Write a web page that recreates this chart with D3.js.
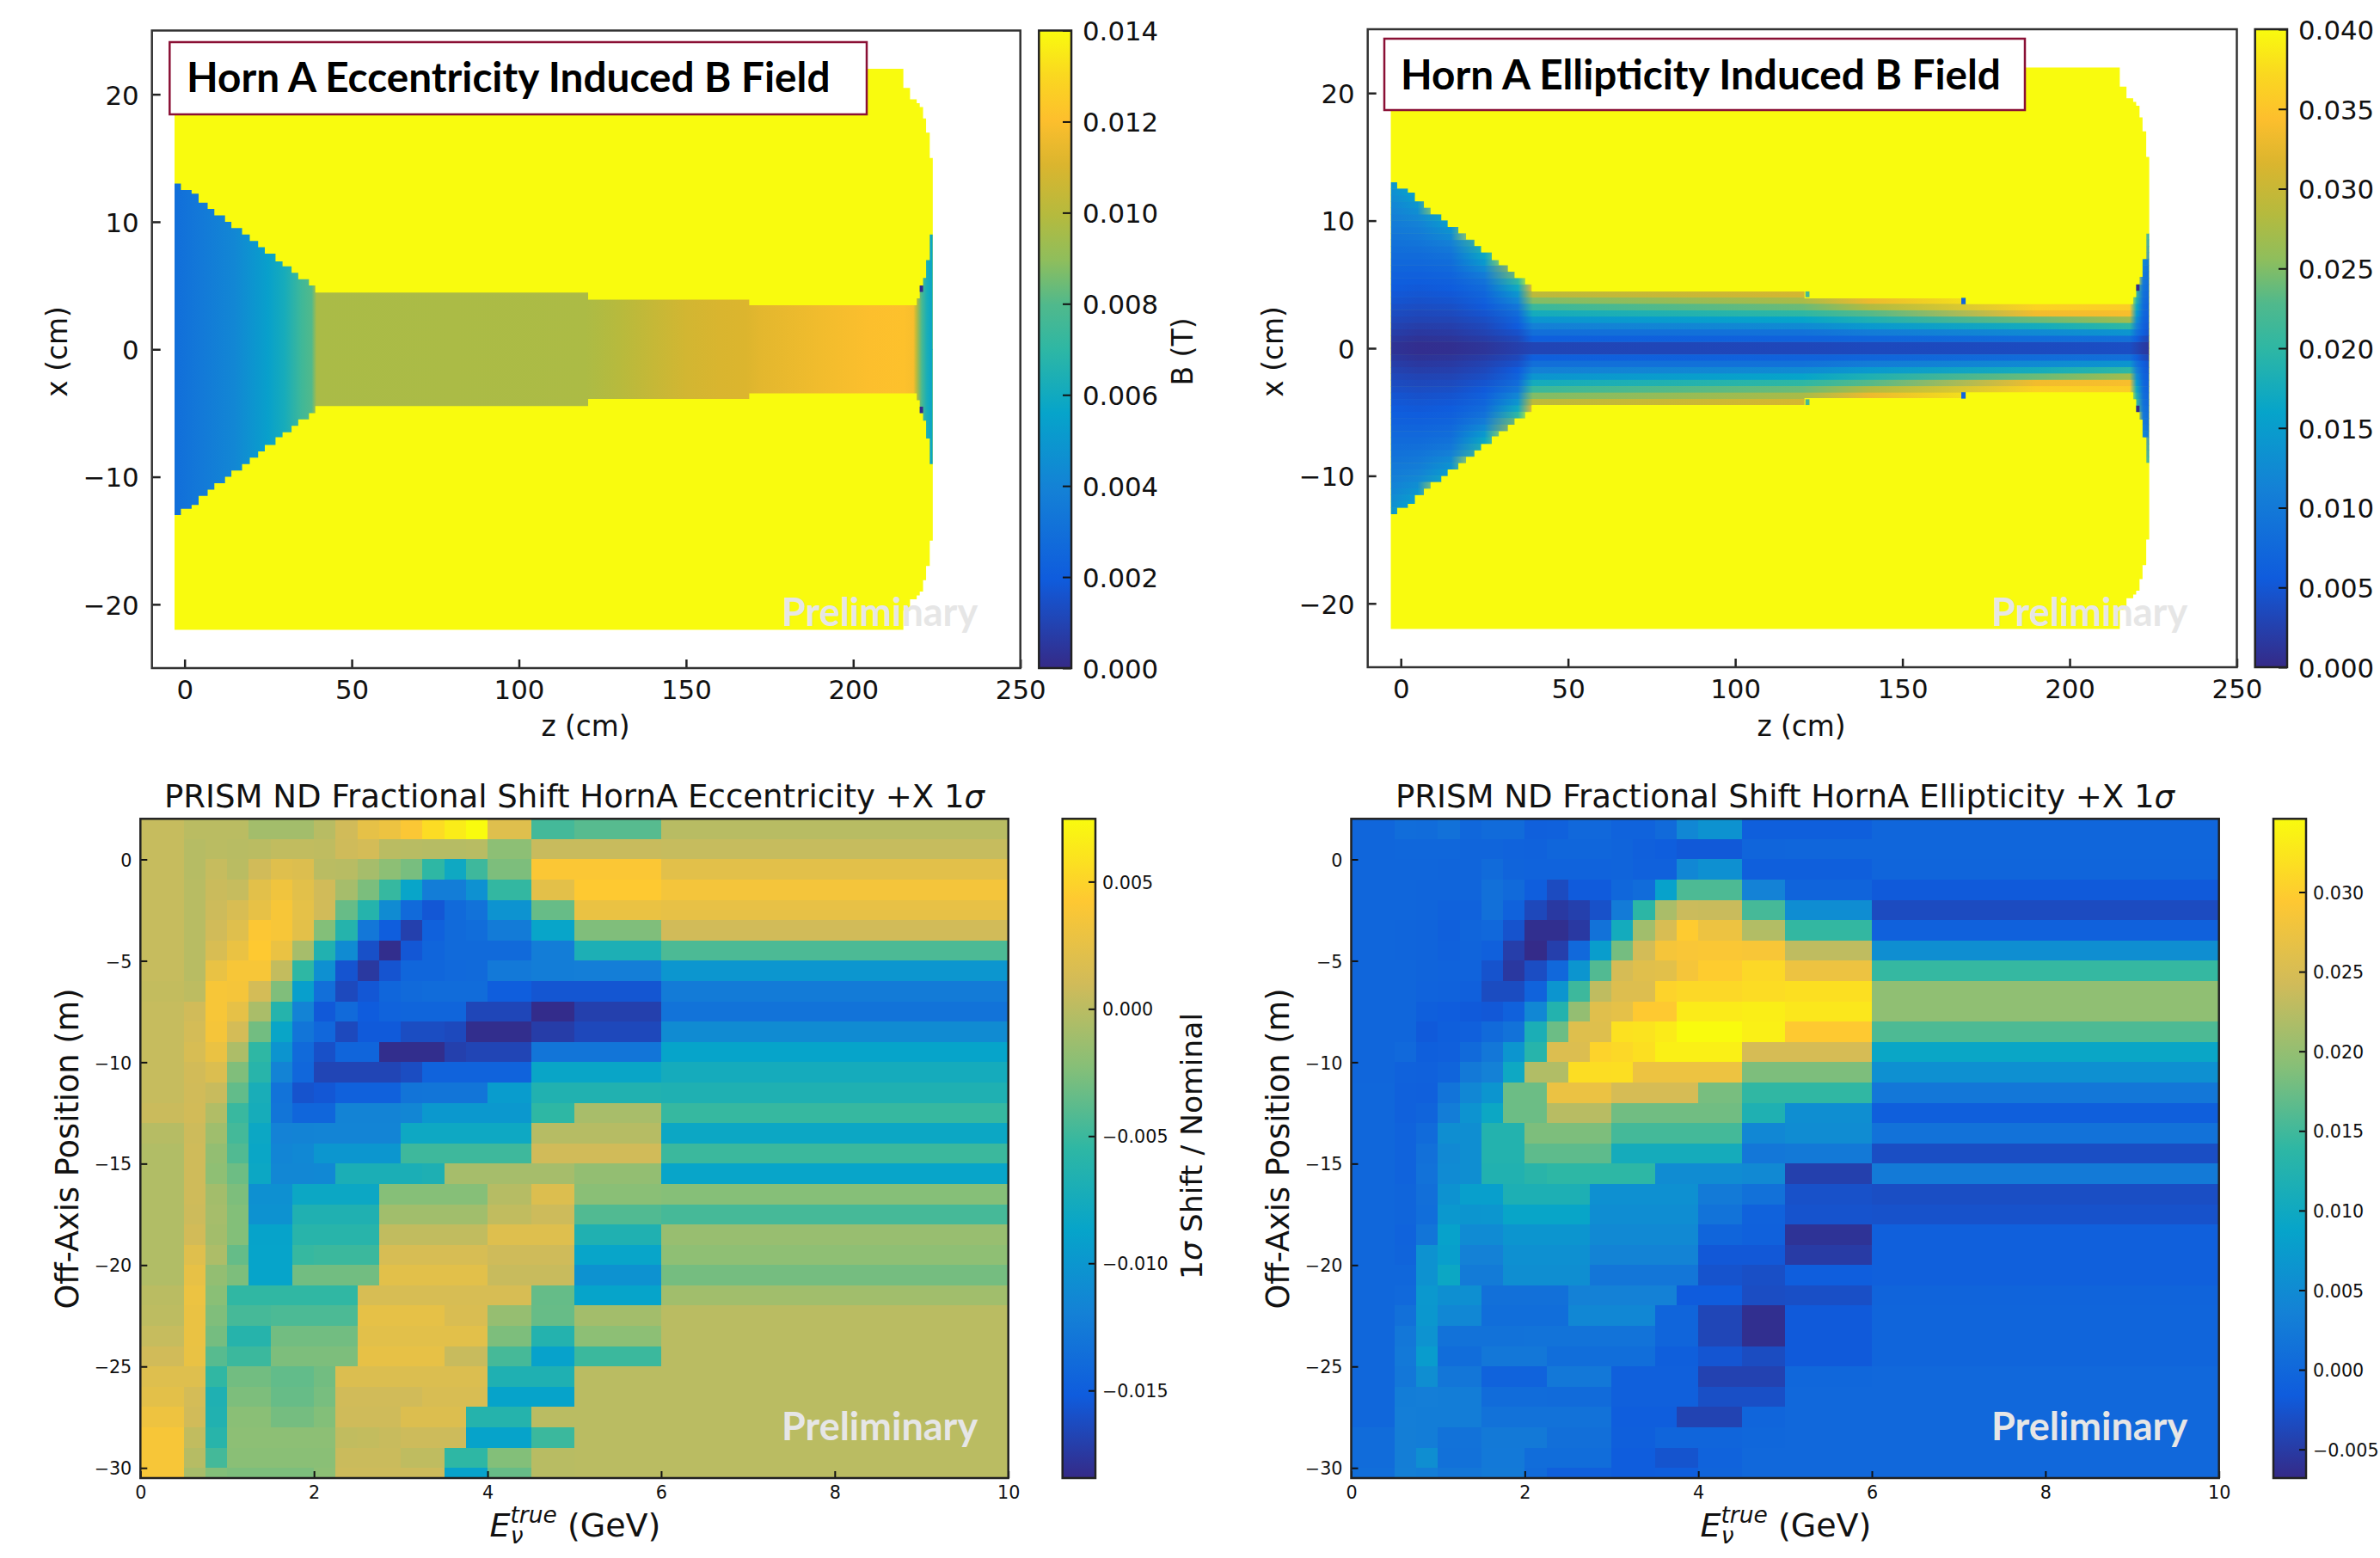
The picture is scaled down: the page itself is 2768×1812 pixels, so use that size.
<!DOCTYPE html>
<html lang="en">
  <head>
    <meta charset="UTF-8" />
    <title>Horn A Eccentricity and Ellipticity</title>
    <script src="https://cdnjs.cloudflare.com/ajax/libs/d3/7.8.5/d3.min.js"></script>
    <style>
      body { margin: 0; background: #fff; }
      text { font-family: "DejaVu Sans", sans-serif; fill: #111; }
      .callout, .prelim { font-family: Lato, sans-serif; font-weight: 700; }
    </style>
  </head>
  <body>
    <div id="chart"></div>
    <script>
      // colormaps
      const parulaStops = ["#352a87", "#0f5cdd", "#1481d6", "#06a4ca", "#2eb7a4", "#87bf77", "#d1bb59", "#fec832", "#f9fb0e"];
      const fieldStopAt = [0, 0.14, 0.28, 0.4, 0.5, 0.57, 0.64, 0.71, 0.79, 0.86, 0.93, 1];
      const fieldStops = ["#352a87", "#0f5cdd", "#1481d6", "#06a4ca", "#2eb7a4", "#50b98c", "#8fbe5c", "#b5ba3e", "#dbb52e", "#fdbf2d", "#fad820", "#f9fb0e"];

      // horn outlines (z bin edges in cm, half height of each bin in cm)
      const outerZ = [-3, 215, 217, 219, 219.9, 220.9, 221.8, 222.9, 223.8];
      const outerR = [22, 20.5, 19.6, 19.3, 19, 18.1, 17, 15];
      const innerZ = [-3, -1.1, 2.1, 4.2, 6.9, 8.9, 12.1, 14, 17.2, 19.5, 22, 24, 27.2, 29.3, 32, 34, 37.2, 39.1, 120.7, 168.9, 219, 219.9, 220.9, 221.8, 222.9, 223.8];
      const innerR = [13, 12.5, 12.2, 11.5, 11, 10.5, 10, 9.5, 9, 8.5, 8, 7.5, 6.9, 6.5, 6, 5.5, 5, 4.45, 3.9, 3.45, 4, 5, 5.6, 7, 9];

      // eccentricity field along z (mT), no x dependence
      const eccZ = [-3, 5, 15, 25, 30, 35, 38, 39.5, 120, 130, 140, 150, 160, 168, 172, 190, 205, 215, 218, 219, 220.5, 222, 223.8];
      const eccB = [2.9, 3.5, 4.2, 5.4, 6.2, 7.5, 8.0, 9.65, 9.7, 10.0, 10.4, 10.8, 11.0, 11.1, 11.3, 11.7, 12.0, 12.1, 11.9, 10, 7.8, 6.3, 5.6];

      // ellipticity field (mT): one row per 0.5 cm |x| bin, one column per z knot
      const ellZ = [-3, 5, 15, 25, 35, 39.5, 120, 140, 190, 218, 220, 222, 223.8];
      const ellRowR = 0.5;
      const ellB = [
        [1.0, 0.5, 0.6, 1.2, 2.4, 3.0, 3.3, 3.5, 3.7, 4.0, 3.0, 2.0, 1.5],
        [1.6, 1.0, 1.2, 2.0, 3.4, 6.0, 6.5, 7.0, 8.0, 8.5, 6.0, 4.0, 3.0],
        [2.2, 1.6, 1.8, 2.8, 4.4, 8.5, 9.0, 10.5, 12.5, 14.0, 9.0, 6.0, 4.5],
        [2.8, 2.2, 2.4, 3.4, 5.6, 11.0, 12.5, 14.5, 17.5, 20.0, 11.0, 6.5, 5.0],
        [3.3, 2.9, 3.0, 4.0, 6.6, 14.0, 16.0, 18.5, 24.0, 27.0, 13.0, 7.0, 5.5],
        [3.8, 3.4, 3.6, 4.7, 8.0, 17.5, 20.0, 23.0, 33.5, 34.0, 15.0, 7.5, 5.8],
        [4.3, 3.9, 4.1, 5.4, 9.5, 21.0, 24.0, 28.0, 36.5, 36.0, 17.0, 8.0, 6.0],
        [4.8, 4.4, 4.7, 6.2, 12.0, 25.0, 27.5, 33.0, 40, 40, 19.0, 8.5, 6.5],
        [5.2, 4.9, 5.2, 7.0, 14.0, 29.0, 31.0, 40, 40, 40, 21.0, 9.0, 7.0],
        [5.6, 5.3, 5.7, 7.8, 17.0, 33.0, 40, 40, 40, 40, 23.0, 9.5, 7.5],
        [6.0, 5.7, 6.2, 9.0, 20.0, 40, 40, 40, 40, 40, 40, 10.0, 8.0],
        [6.4, 6.2, 6.8, 10.5, 24.0, 40, 40, 40, 40, 40, 40, 10.0, 8.5],
        [6.9, 6.8, 7.5, 12.5, 27.0, 40, 40, 40, 40, 40, 40, 11.0, 9.0],
        [7.4, 7.4, 8.2, 14.5, 40, 40, 40, 40, 40, 40, 40, 12.0, 10.0],
        [7.8, 7.9, 9.0, 16.5, 40, 40, 40, 40, 40, 40, 40, 40, 11.0],
        [8.3, 8.5, 9.8, 18.5, 40, 40, 40, 40, 40, 40, 40, 40, 12.0],
        [8.8, 9.2, 11.0, 21.0, 40, 40, 40, 40, 40, 40, 40, 40, 13.5],
        [9.3, 9.9, 12.5, 40, 40, 40, 40, 40, 40, 40, 40, 40, 15.0],
        [9.8, 10.5, 13.5, 40, 40, 40, 40, 40, 40, 40, 40, 40, 40],
        [10.3, 11.2, 15.0, 40, 40, 40, 40, 40, 40, 40, 40, 40, 40],
        [10.8, 12.0, 17.0, 40, 40, 40, 40, 40, 40, 40, 40, 40, 40],
        [11.3, 13.0, 40, 40, 40, 40, 40, 40, 40, 40, 40, 40, 40],
        [11.8, 14.0, 40, 40, 40, 40, 40, 40, 40, 40, 40, 40, 40],
        [12.4, 15.0, 40, 40, 40, 40, 40, 40, 40, 40, 40, 40, 40],
        [13.0, 16.0, 40, 40, 40, 40, 40, 40, 40, 40, 40, 40, 40],
        [14.0, 17.0, 40, 40, 40, 40, 40, 40, 40, 40, 40, 40, 40],
      ];
      // stray single cells at the conductor steps: [z0, z1, r0, r1, B in mT]
      const ellSpecks = [[121, 122.2, 4, 4.45, 22], [167.6, 168.9, 3.45, 3.95, 7], [219.9, 220.9, 4.5, 5, 0]];
      const eccSpecks = [[219.9, 220.9, 4.5, 5, 0]];

      // PRISM shift histograms, units of 1e-3. Rows top to bottom, columns by energy bin
      const energyEdges = [0, 0.5, 0.75, 1, 1.25, 1.5, 1.75, 2, 2.25, 2.5, 2.75, 3, 3.25, 3.5, 3.75, 4, 4.5, 5, 6, 10];
      const offAxisEdges = [2, 1, 0, -1, -2, -3, -4, -5, -6, -7, -8, -9, -10, -11, -12, -13, -14, -15, -16, -17, -18, -19, -20, -21, -22, -23, -24, -25, -26, -27, -28, -29, -30, -30.5];
      const eccShift = [
        [.5, 0, 0, 0, -1, -1, -1, -.1, 1, 2.5, 3, 4, 5.5, 6.5, 7.5, 2, -4.7, -4, -.1],
        [.5, -.2, 0, -.1, 0, .3, .3, .2, .9, 1.2, 0, -.1, -.2, -.2, -.1, -2, .6, .6, .5],
        [.5, -.2, .5, 0, 1, 2, 1.8, 0, -.1, -.9, -2, -2.8, -5.5, -8, -4.9, -2.6, 4, 4, 2.2],
        [.5, -.1, .7, .5, 2.2, 3.2, 2.2, 1, -.9, -2.7, -5.2, -8.6, -12.3, -12.3, -10.5, -5.3, 2.3, 4.3, 3.5],
        [.5, -.1, .8, 1.5, 2.6, 3.7, 2.4, 1, -3.4, -6.2, -11, -14, -15.5, -14, -13.3, -10.3, -3.4, 2.8, 2.6],
        [.5, -.1, 1, 2, 4.1, 3.7, 2.3, -2.4, -6.2, -12.8, -15, -17, -14.8, -14, -13.7, -12.5, -8.6, -2.5, 1],
        [.5, -.1, 1.5, 2.8, 4.3, 2.8, -.9, -6.5, -11, -16, -18.2, -15.5, -14.4, -14, -14, -14, -12.3, -6.9, -4.4],
        [.5, -.1, 2.7, 3.7, 3.7, .4, -5.5, -10.6, -15.7, -17.5, -15.7, -14.3, -14.3, -14.1, -14, -12.7, -12.3, -12.2, -10],
        [.4, .1, 3.7, 3.6, 1.2, -2.5, -9.2, -13.5, -16.4, -15.5, -14.3, -14, -13.8, -13.8, -13.8, -15, -15.6, -15.6, -12.5],
        [.5, 1, 3.7, 2.5, -.7, -6.2, -11.8, -15.4, -14, -15.2, -14.6, -14.4, -14.4, -14.4, -16.6, -16.6, -18.3, -17, -13.2],
        [.5, 1.2, 3.6, 1.2, -3, -8.5, -13, -14.2, -16.4, -15.3, -15.3, -16.2, -16.2, -16.4, -18.2, -18.2, -17.2, -16.5, -11],
        [.5, 1.4, 2.8, -.6, -5.5, -10.2, -14, -16, -14.4, -14.4, -18.2, -18.2, -18.2, -17, -16.7, -16.7, -13, -13, -8.7],
        [.5, 1.1, 1.7, -2.5, -6, -11.8, -14.2, -16.7, -16.7, -16.7, -16.7, -16.2, -14.6, -14.6, -14.6, -14.6, -8.5, -8.5, -7.5],
        [.5, 1, .6, -3.6, -7.2, -13.2, -15.8, -15.5, -14.8, -14.8, -14.8, -13.1, -13, -13, -13, -9.5, -6.5, -6.5, -6.7],
        [.7, 1.1, -.4, -5.1, -7.4, -13, -14.3, -14.3, -11.8, -11.8, -11.8, -11.5, -9.8, -9.8, -9.8, -9.8, -5.5, -.8, -5.2],
        [-.2, .8, -1.2, -4.7, -8.2, -11.9, -11.8, -11.7, -11.7, -11.7, -11.7, -8.1, -8.1, -8.1, -8.1, -8.1, -.2, -.2, -8.2],
        [-.4, .9, -1.7, -4.2, -8.4, -11.6, -11.3, -10, -10, -10, -10, -4.9, -4.9, -4.9, -4.9, -4.9, 1, 1, -5],
        [-.4, .9, -1.9, -3.2, -8.2, -11.4, -11.4, -11.3, -7, -7, -7, -7, -6.8, -.9, -.9, -.9, -.9, -1.7, -8.6],
        [-.4, .9, -1, -2.6, -10.6, -10.6, -8.2, -8.2, -8.2, -8.2, -2.3, -2.3, -2.3, -2.3, -2.3, -.2, 1.8, -2.1, -2.3],
        [-.4, .8, -.9, -2.4, -10.4, -10.4, -6.6, -6.6, -6.6, -6.6, -1.1, -1.1, -1.1, -1.1, -1.1, .3, .8, -4.2, -4.6],
        [-.4, 1.1, -1, -2.4, -8.8, -8.8, -6, -6, -6, -6, .3, .3, .3, .3, .3, 1.9, 1.9, -6.6, -1.5],
        [-.4, 2, -.6, -3.5, -8.7, -8.7, -5.2, -5, -5, -5, 1.4, 1.4, 1.4, 1.4, 1.4, .9, .9, -8.6, -1.9],
        [-.4, 2.6, -1.7, -2.6, -8.7, -8.7, -3, -3, -3, -3, 2.2, 2.2, 2.2, 2.2, 2.2, .6, .6, -10.4, -2.9],
        [0, 2.9, -2.1, -5.4, -5.4, -5.4, -5.4, -5.4, -5.4, 1.4, 1.4, 1.4, 1.4, 1.4, 1.4, 1.4, -3.5, -8.7, -1.1],
        [.1, 2.8, -2.5, -4.6, -4.6, -4.4, -4.4, -4.4, -4.4, 2.5, 2.5, 2.5, 2.5, 1.6, 1.6, -1.6, -3.4, -1, 0],
        [.5, 2.8, -2.9, -6.1, -6.1, -3, -3, -3, -3, 2.2, 2.2, 2.2, 2.2, 2.2, 2.2, -2.6, -6.3, -2, 0],
        [1, 2.7, -4, -5, -5, -2.6, -2.6, -2.6, -2.6, 2.6, 2.6, 2.6, 2.6, .6, .6, -4.6, -8.9, -5, 0],
        [1.9, 1.9, -5.4, -3, -3, -3.6, -3.6, -3, 1.7, 1.7, 1.7, 1.7, 1.7, 1.7, 1.7, -6.7, -6.7, 0, 0],
        [2.3, 1.2, -6.7, -2.6, -2.6, -3.4, -3.4, -2.8, 1, 1, 1, 1, 1.5, 1.5, 1.5, -8.8, -8.8, 0, 0],
        [3.1, 1, -6.5, -2.1, -2.1, -2.9, -2.9, -2.4, .9, .9, .9, 1.8, 1.8, 1.8, -6.2, -6.2, 0, 0, 0],
        [3.7, .3, -6, -2, -2, -2, -2, -2, .3, .4, .6, .8, .8, .8, -8.8, -8.8, -5, 0, 0],
        [3.7, -.2, -4.7, -2.1, -2.1, -2.1, -2.1, -2.1, .7, .7, .7, .2, .2, -5.5, -5.5, -2.4, -.1, 0, 0],
        [3.7, -.8, -2.4, -2.6, -2.6, -2.6, -2.6, -2, .8, .8, .8, .8, .8, -8.9, -8.9, -3.4, -.1, 0, 0],
      ];
      const ellShift = [
        [-.2, .8, .6, 1.3, -.1, .5, .5, -1, -.9, 0, 0, -.7, -.6, .3, 4.5, 6, -1.2, -1.2, -.2],
        [-.2, -.1, -.1, -.1, -.4, -.4, -.7, -.8, -.2, -.2, -.2, -.5, -1, -1.3, -1.9, -1.9, -.3, -.2, -.2],
        [-.2, -.2, -.2, -.4, -.4, .5, -.5, -.7, -.7, -.7, -.7, -.5, -.9, -.9, 4.5, 5.8, -1.2, -1.2, -.4],
        [-.2, -.2, -.3, -.4, -.4, 1.2, .3, -1.4, -3.4, -1.7, -1.7, -.1, .6, 8.5, 15.7, 15.7, 3.7, -.5, -1.8],
        [-.2, -.2, -.4, -.8, -.8, 1.2, -.8, -3.7, -5.2, -4.5, -2.8, 2.7, 13.7, 21.5, 23.8, 23.7, 15.3, 5.3, -3.4],
        [-.2, -.3, -.5, -1, -.4, 0, -2.6, -6.3, -6.3, -5.2, 1.5, 10.5, 20.9, 25, 29.7, 27.5, 22.1, 14.2, -.9],
        [-.2, -.3, -.5, -.9, -.5, -1, -4.7, -6.7, -4.6, .2, 7.7, 18, 24.5, 28.4, 28.8, 29, 28.7, 23, 5.5],
        [-.2, -.2, -.5, -.6, -.6, -2.6, -5.3, -3.2, .1, 6.5, 16, 24.8, 26, 26.2, 28.4, 29.8, 31, 27.5, 14.3],
        [-.2, -.2, -.6, -.8, -1, -3.3, -3.3, -.7, 6.5, 14.8, 23, 25.6, 25.6, 30.5, 31, 31, 31.5, 31.8, 19.7],
        [-.2, -.2, -1.2, -1.5, -1.8, -2, -.9, 4.5, 12.5, 20, 26, 26.5, 29.5, 29.5, 33, 33, 33.3, 32.6, 19.7],
        [-.2, -.2, -1.8, -1.2, -1, .3, 1.5, 11.5, 17.5, 25.8, 25.8, 32, 32.2, 33, 34.6, 34.6, 33.5, 29.5, 15.7],
        [-.2, .2, -1.2, -1, .4, 2.2, 6.5, 13, 25.5, 25.5, 30.5, 31, 31.8, 33.5, 33.5, 33.5, 24.8, 24.8, 9.3],
        [-.2, -.8, -.9, -.3, 2.5, 3.5, 9.7, 22, 22, 31.6, 31.6, 31.7, 27.5, 27.5, 27.5, 27.5, 18.5, 18.5, 5.8],
        [-.1, -.9, -1, 1.7, 4.5, 6.5, 17.5, 17.5, 27.2, 27.2, 27.2, 24.8, 24.8, 24.8, 24.8, 18.2, 14, 14, 2.2],
        [-.1, -.9, -.5, 3, 6.2, 9.5, 17.5, 17.5, 22.5, 22.5, 22.5, 17.8, 17.8, 17.8, 17.8, 17.8, 12, 5.5, -1.2],
        [-.1, -.7, .5, 5.5, 5.5, 12.5, 12.5, 18.5, 18.5, 18.5, 18.5, 15.2, 15.2, 15.2, 15.2, 15.2, 4.5, 5.2, 1.5],
        [-.1, -.7, 1.2, 4.8, 5.5, 12.5, 12.5, 16.7, 16.7, 16.7, 16.7, 10.7, 10.7, 10.7, 10.7, 10.7, 2.2, 2.5, -3.1],
        [-.1, -.6, 1.5, 5, 5.5, 12.2, 12.2, 13.2, 13.8, 13.8, 13.8, 13.8, 13.8, 5.2, 5.2, 5.2, 4.8, -4.5, 2.6],
        [-.1, -.4, 1, 6, 8, 8, 11.7, 11.7, 11.7, 11.7, 5.8, 5.8, 5.8, 5.8, 5.8, 2.6, 1.3, -2.8, -3.1],
        [-.1, -.4, .9, 7, 6.5, 6.6, 9, 9, 9, 9, 5.3, 5.3, 5.3, 5.3, 5.3, 1.6, -.8, -2.6, -2.7],
        [-.1, -.7, 1.9, 8.5, 5, 5, 6.5, 6.5, 6.5, 6.5, 4.8, 4.8, 4.8, 4.8, 4.8, -.4, -.9, -5.9, -1],
        [-.1, -.5, 6, 8, 3.5, 3.5, 5.8, 5.8, 5.8, 5.8, 3.8, 3.8, 3.8, 3.8, 3.8, -2, -2, -5, -1],
        [-.1, -.1, 6, 9.5, 2.7, 2.7, 5.5, 5.5, 5.5, 5.5, 2, 2, 2, 2, 2, -2.6, -3, -1.3, -1],
        [-.1, .2, 7, 5.6, 5.6, 1.2, 1.2, 1.2, 1.2, 3.5, 3.5, 3.5, 3.5, 3.5, -1.6, -1.6, -3.2, -3, -.5],
        [-.1, 1.2, 6.8, 4.5, 4.5, .9, .9, .9, .9, 4.5, 4.5, 4.5, 4.5, -.4, -.4, -3.9, -6.3, -1.8, -.3],
        [-.1, 2.2, 6.2, 1.5, 1.5, 1.5, 1.5, 1.6, 1.6, 1.6, 1.6, 1.6, 1.6, -.4, -.4, -3.9, -6.3, -1.8, -.3],
        [-.1, 2.4, 7.5, .8, .8, 2.2, 2.2, 2.2, .9, .9, .9, .9, .9, -1.2, -1.2, -2.3, -3.3, -1.8, -.3],
        [-.1, 2.2, 5.5, 2, 2, -.6, -.6, -.6, 2.3, 2.3, 2.3, -1, -1, -1, -1, -4.3, -4.3, -.1, 0],
        [-.1, 3, 3.1, 3, 3, .6, .6, .6, .5, .5, .5, -1.1, -1.1, -1.1, -1.1, -3, -3, 0, 0],
        [-.1, 3.1, 3, 3, 3, 1.5, 1.5, 1.5, 1.5, 1.5, 1.5, -1.3, -1.3, -1.3, -4.2, -4.2, -.3, 0, 0],
        [.6, 3.2, 3, 1.5, 1.5, 2.5, 2.5, 2.5, 1, 1, 1, -1.2, -1.2, -.3, -.3, -.3, -.1, 0, 0],
        [.6, 3.2, 5.5, 1.3, 1.3, 2.4, 2.4, .7, .7, .7, .7, -1.5, -1.5, -2.5, -2.5, -.6, 0, 0, 0],
        [.9, 3.3, 3, 2, 2, 2.6, 2.6, .5, -1, -1, -1, -1.5, -1.5, -1.4, -1.4, -.5, 0, 0, 0],
      ];

      const zTicks = [0, 50, 100, 150, 200, 250];
      const xTicks = [20, 10, 0, -10, -20];
      const energyTicks = [0, 2, 4, 6, 8, 10];
      const offAxisTicks = [0, -5, -10, -15, -20, -25, -30];
      const eccBarTicks = [0, 0.002, 0.004, 0.006, 0.008, 0.01, 0.012, 0.014];
      const ellBarTicks = [0, 0.005, 0.01, 0.015, 0.02, 0.025, 0.03, 0.035, 0.04];
      const eccShiftTicks = [-0.015, -0.01, -0.005, 0, 0.005];
      const ellShiftTicks = [-0.005, 0, 0.005, 0.01, 0.015, 0.02, 0.025, 0.03];

      const svg = d3.select("#chart").append("svg").attr("width", 2768).attr("height", 1812);
      const defs = svg.append("defs");

      const parula = d3.scaleLinear().domain(d3.range(9).map((i) => i / 8)).range(parulaStops).clamp(true);
      const fieldMap = d3.scaleLinear().domain(fieldStopAt).range(fieldStops).clamp(true);

      function frame(g, box, color, width) {
        g.append("rect").attr("x", box.left).attr("y", box.top)
          .attr("width", box.right - box.left).attr("height", box.bottom - box.top)
          .attr("fill", "none").attr("stroke", color).attr("stroke-width", width);
      }

      function styleAxis(sel, color, width, size, nudge = 0) {
        sel.select(".domain").remove();
        sel.selectAll(".tick line").attr("stroke", color).attr("stroke-width", width);
        sel.selectAll(".tick text").attr("font-size", size).style("fill", "#111")
          .attr("transform", `translate(0,${nudge})`);
      }

      // colorbar drawn from the colormap, with inward ticks on its right side
      function colorbar(id, box, domain, cmap, stopsAt, ticks, opt) {
        const grad = defs.append("linearGradient").attr("id", id).attr("x1", 0).attr("x2", 0).attr("y1", 1).attr("y2", 0);
        grad.selectAll("stop").data(stopsAt).join("stop")
          .attr("offset", (d) => d).attr("stop-color", (d) => cmap(d));
        svg.append("rect").attr("x", box.left).attr("y", box.top)
          .attr("width", box.right - box.left).attr("height", box.bottom - box.top)
          .attr("fill", `url(#${id})`);
        const y = d3.scaleLinear().domain(domain).range([box.bottom, box.top]);
        const g = svg.append("g").attr("transform", `translate(${box.right},0)`)
          .call(d3.axisRight(y).tickValues(ticks).tickFormat(d3.format(".3f")).tickSize(-opt.tick).tickPadding(opt.pad));
        styleAxis(g, "#111", 2, opt.font, opt.nudge);
        frame(svg, box, "#222", 2.5);
      }

      function prelim(x, y, size) {
        svg.append("text").attr("class", "prelim").attr("x", x).attr("y", y)
          .attr("font-size", size).style("fill", "#e6e6e6").text("Preliminary");
      }

      function rotated(x, y, size, build) {
        const t = svg.append("text").attr("transform", `translate(${x},${y}) rotate(-90)`)
          .attr("text-anchor", "middle").attr("dominant-baseline", "central").attr("font-size", size);
        build(t);
      }

      // top row: field maps
      function fieldPanel(cfg) {
        const { box } = cfg;
        const z = d3.scaleLinear().domain([cfg.zMin, 250]).range([box.left, box.right]);
        const x = d3.scaleLinear().domain([-25, 25]).range([box.bottom, box.top]);
        const color = (b) => fieldMap(b / cfg.bMax);
        const area = d3.area().curve(d3.curveStepAfter).x((d) => z(d[0])).y0((d) => x(-d[1])).y1((d) => x(d[1]));
        const steps = (zs, rs) => zs.map((v, i) => [v, rs[Math.min(i, rs.length - 1)]]);

        const g = svg.append("g");
        g.append("path").attr("d", area(steps(outerZ, outerR))).attr("fill", color(cfg.bMax));

        defs.append("clipPath").attr("id", cfg.id + "-clip").append("path").attr("d", area(steps(innerZ, innerR)));
        const inner = g.append("g").attr("clip-path", `url(#${cfg.id}-clip)`);
        const gradient = (id, zs, bs) => {
          const lg = defs.append("linearGradient").attr("id", id).attr("gradientUnits", "userSpaceOnUse")
            .attr("x1", z(zs[0])).attr("x2", z(zs[zs.length - 1])).attr("y1", 0).attr("y2", 0);
          lg.selectAll("stop").data(zs).join("stop")
            .attr("offset", (d) => (d - zs[0]) / (zs[zs.length - 1] - zs[0]))
            .attr("stop-color", (d, i) => color(bs[i]));
        };
        cfg.rows.forEach((row, i) => {
          gradient(`${cfg.id}-row${i}`, row.z, row.b);
          [[row.r0, row.r1], [-row.r1, -row.r0]].forEach(([a, b]) => {
            inner.append("rect").attr("x", z(-3)).attr("width", z(223.8) - z(-3))
              .attr("y", x(b) - 0.3).attr("height", x(a) - x(b) + 0.6)
              .attr("fill", `url(#${cfg.id}-row${i})`);
          });
        });
        cfg.specks.forEach(([z0, z1, r0, r1, b]) => {
          [[r0, r1], [-r1, -r0]].forEach(([a, c]) => {
            g.append("rect").attr("x", z(z0)).attr("width", z(z1) - z(z0))
              .attr("y", x(c)).attr("height", x(a) - x(c)).attr("fill", color(b));
          });
        });

        const ax = svg.append("g").attr("transform", `translate(0,${box.bottom})`)
          .call(d3.axisBottom(z).tickValues(zTicks).tickSize(-10).tickPadding(13));
        styleAxis(ax, "#222", 2.5, 30.8, 1);
        const ay = svg.append("g").attr("transform", `translate(${box.left},0)`)
          .call(d3.axisLeft(x).tickValues(xTicks).tickSize(-10).tickPadding(15));
        styleAxis(ay, "#222", 2.5, 30.8, 1.5);
        frame(svg, box, "#333", 2.5);

        svg.append("text").attr("x", cfg.zLabelX).attr("y", 856).attr("text-anchor", "middle").attr("font-size", 32.8).text("z (cm)");
        rotated(cfg.xLabelX, 409, 32.8, (t) => t.text("x (cm)"));

        // callout box sits above the yellow
        const c = cfg.callout;
        svg.append("rect").attr("x", c.left).attr("y", c.top).attr("width", c.right - c.left).attr("height", c.bottom - c.top)
          .attr("fill", "#fff").attr("stroke", "#8a1035").attr("stroke-width", 2.5);
        svg.append("text").attr("class", "callout").attr("x", c.textX).attr("y", c.baseline)
          .attr("font-size", c.size).style("fill", "#000").text(c.text);

        prelim(cfg.prelimX, 728, cfg.prelimSize);
      }

      fieldPanel({
        id: "ecc", box: { left: 176.7, right: 1186.7, top: 35.5, bottom: 777 }, zMin: -9.77, bMax: 14,
        rows: [{ r0: 0, r1: 13.5, z: eccZ, b: eccB }],
        specks: eccSpecks, zLabelX: 681, xLabelX: 67, prelimX: 909, prelimSize: 45,
        callout: { left: 197.3, right: 1008, top: 49, bottom: 133, textX: 217, baseline: 107, size: 47.7, text: "Horn A Eccentricity Induced B Field" },
      });
      fieldPanel({
        id: "ell", box: { left: 1590.7, right: 2601.5, top: 34, bottom: 776 }, zMin: -9.9, bMax: 40,
        rows: ellB.map((b, i) => ({ r0: i * ellRowR, r1: (i + 1) * ellRowR, z: ellZ, b })),
        specks: ellSpecks, zLabelX: 2095, xLabelX: 1481, prelimX: 2316, prelimSize: 45,
        callout: { left: 1610, right: 2355, top: 45, bottom: 128, textX: 1629, baseline: 104, size: 47.7, text: "Horn A Ellipticity Induced B Field" },
      });

      const eccBarBox = { left: 1208.3, right: 1246, top: 35.5, bottom: 777 };
      const ellBarBox = { left: 2622.7, right: 2660, top: 34, bottom: 776 };
      const fieldFrac = fieldStopAt;
      colorbar("ecc-bar", eccBarBox, [0, 0.014], fieldMap, fieldFrac, eccBarTicks, { tick: 10, pad: 13, font: 30.8, nudge: 1.5 });
      colorbar("ell-bar", ellBarBox, [0, 0.04], fieldMap, fieldFrac, ellBarTicks, { tick: 10, pad: 13, font: 30.8, nudge: 1.5 });
      rotated(1375, 409, 33, (t) => t.text("B (T)"));

      // bottom row: shift histograms
      function shiftPanel(cfg) {
        const { box } = cfg;
        const x = d3.scaleLinear().domain([0, 10]).range([box.left, box.right]);
        const y = d3.scaleLinear().domain([-30.5, 2]).range([box.bottom, box.top]);
        const frac = d3.scaleLinear().domain(cfg.domain).range([0, 1]);
        const cells = cfg.values.flatMap((row, i) => row.map((v, j) => ({ i, j, v })));
        svg.append("g").selectAll("rect").data(cells).join("rect")
          .attr("x", (d) => x(energyEdges[d.j]))
          .attr("y", (d) => y(offAxisEdges[d.i]))
          .attr("width", (d) => x(energyEdges[d.j + 1]) - x(energyEdges[d.j]))
          .attr("height", (d) => y(offAxisEdges[d.i + 1]) - y(offAxisEdges[d.i]))
          .attr("shape-rendering", "crispEdges")
          .attr("fill", (d) => parula(frac(d.v * 1e-3)));

        const ax = svg.append("g").attr("transform", `translate(0,${box.bottom})`)
          .call(d3.axisBottom(x).tickValues(energyTicks).tickSize(-8).tickPadding(9));
        styleAxis(ax, "#111", 2, 20.7);
        const ay = svg.append("g").attr("transform", `translate(${box.left},0)`)
          .call(d3.axisLeft(y).tickValues(offAxisTicks).tickSize(-8).tickPadding(10));
        styleAxis(ay, "#111", 2, 20.7, 1);
        frame(svg, box, "#222", 2.5);

        const title = svg.append("text").attr("x", cfg.titleX).attr("y", 939).attr("text-anchor", "middle").attr("font-size", cfg.titleSize);
        title.append("tspan").text(cfg.title + " +X 1");
        title.append("tspan").attr("font-style", "italic").text("σ");

        const xl = svg.append("text").attr("x", cfg.xLabelX).attr("y", 1787).attr("text-anchor", "middle").attr("font-size", 38);
        xl.append("tspan").attr("font-style", "italic").text("E");
        xl.append("tspan").attr("font-style", "italic").attr("font-size", 26.5).attr("dy", 8).text("ν");
        xl.append("tspan").attr("font-style", "italic").attr("font-size", 26.5).attr("dy", -24).attr("dx", -15).text("true");
        xl.append("tspan").attr("dy", 16).text(" (GeV)");

        rotated(cfg.yLabelX, 1336, 36.7, (t) => t.text("Off-Axis Position (m)"));
        prelim(cfg.prelimX, 1675, 45);
      }

      shiftPanel({
        box: { left: 163.3, right: 1172.7, top: 952.3, bottom: 1719 }, values: eccShift, domain: [-0.01844, 0.00747],
        title: "PRISM ND Fractional Shift HornA Eccentricity", titleX: 668, titleSize: 37.1, xLabelX: 669, yLabelX: 78, prelimX: 909,
      });
      shiftPanel({
        box: { left: 1571.5, right: 2580.7, top: 952.3, bottom: 1719 }, values: ellShift, domain: [-0.0068, 0.0346],
        title: "PRISM ND Fractional Shift HornA Ellipticity", titleX: 2076, titleSize: 37.1, xLabelX: 2077, yLabelX: 1486, prelimX: 2316,
      });

      const barFrac = d3.range(9).map((i) => i / 8);
      colorbar("ecc-shift-bar", { left: 1235.7, right: 1274, top: 952.3, bottom: 1719 }, [-0.01844, 0.00747], parula, barFrac, eccShiftTicks, { tick: 8, pad: 8, font: 20.7, nudge: 1 });
      colorbar("ell-shift-bar", { left: 2644, right: 2682, top: 952.3, bottom: 1719 }, [-0.0068, 0.0346], parula, barFrac, ellShiftTicks, { tick: 8, pad: 8, font: 20.7, nudge: 1 });
      rotated(1386, 1333, 34.6, (t) => {
        t.append("tspan").text("1");
        t.append("tspan").attr("font-style", "italic").text("σ");
        t.append("tspan").text(" Shift / Nominal");
      });
    </script>
  </body>
</html>
